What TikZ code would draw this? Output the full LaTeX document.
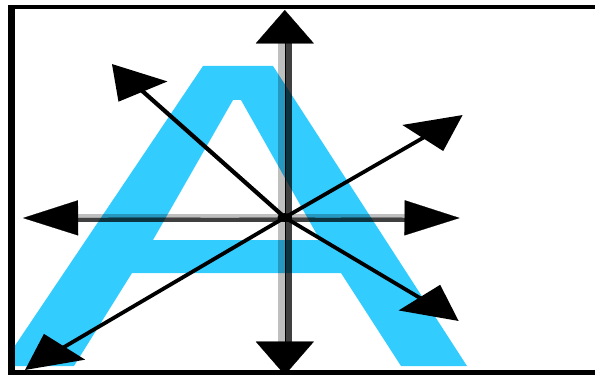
\documentclass[tikz,border=0pt]{standalone}
\usepackage[svgnames, x11names]{xcolor}
\usepackage{tikz}
\usetikzlibrary{arrows.meta, calc}
\definecolor{LetterCyan}{HTML}{33CCFF}

\begin{document}
\begin{tikzpicture}[x = 0.02cm, y = -0.02cm,
		ray/.style = {draw = black, line width = 1.8pt, -{Triangle[length = 19pt, width = 20pt]}},
		axis tip/.style = {ray, line width = 0.1pt},
		axis light/.style = {draw = black, draw opacity = 0.25, line width = 2.45pt, shorten < = 18pt, shorten > = 18pt},
		axis dark/.style = {draw = black, draw opacity = 0.75, line width = 2.45pt, shorten < = 18pt, shorten > = 18pt}]
	\path [use as bounding box, draw = none] (0, 0) rectangle (595, 375);
	\fill[LetterCyan, even odd rule] (203, 66) -- (273, 66) -- (467, 366) -- (401, 366) -- (341, 273) -- (132, 273) -- (74, 366) -- (8, 366) -- (8, 356) -- cycle
		(233, 100) -- (241, 100) -- (320, 240) -- (153, 240) -- cycle;
	\begin{scope}[x = 0.012121cm, transform canvas = {xscale = 1.65}]
		\coordinate (c) at (285, 217.5);
		\coordinate (tipN) at (285, 10);
		\coordinate (tipS) at (285, 375);
		\coordinate (tipW) at (23, 218);
		\coordinate (tipE) at (460, 218);
		\coordinate (tipNW) at (112, 64);
		\coordinate (tipNE) at (463, 115);
		\coordinate (tipSE) at (459, 321);
		\coordinate (tipSW) at (25, 370);
		\draw[axis light] ([xshift = -1.2pt]tipN) -- ([xshift = -1.2pt]tipS);
		\draw[axis dark] ([xshift = 1.2pt]tipN) -- ([xshift = 1.2pt]tipS);
		\draw[axis light] ([yshift = 1.25pt]tipW) -- ([yshift = 1.25pt]tipE);
		\draw[axis dark] ([yshift = -1.25pt]tipW) -- ([yshift = -1.25pt]tipE);
		\draw[axis tip] (c) -- (tipN);
		\draw[axis tip] (c) -- (tipS);
		\draw[axis tip] (c) -- (tipW);
		\draw[axis tip] (c) -- (tipE);
		\draw[ray] (c) -- (tipNW);
		\draw[ray] (c) -- (tipNE);
		\draw[ray] (c) -- (tipSE);
		\draw[ray] (c) -- (tipSW);
		\fill (c) circle (2.5pt);
	\end{scope}
	\fill (8, 5) rectangle (595, 9);
	\fill (8, 5) rectangle (15, 375);
	\fill (8, 370) rectangle (595, 375);
\end{tikzpicture}
\end{document}
